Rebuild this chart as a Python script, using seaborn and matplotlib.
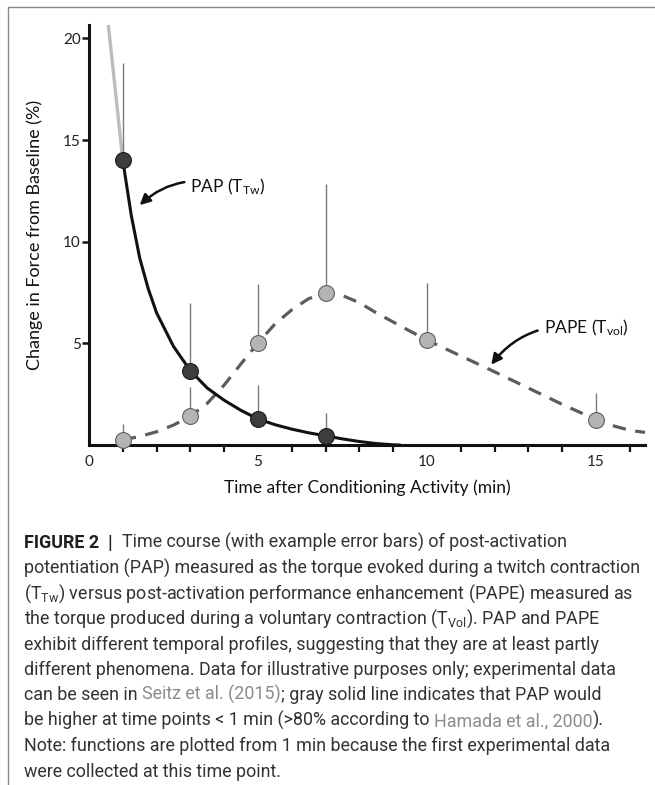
import matplotlib
matplotlib.use("Agg")
import matplotlib.pyplot as plt
import seaborn as sns
import pandas as pd
from matplotlib.lines import Line2D
from matplotlib.ticker import FixedLocator

# ---------------- data ----------------
pap_time = [1, 3, 5, 7]
pap_vals = [14.0, 3.65, 1.28, 0.45]
pap_err_top = [18.8, 7.0, 2.95, 1.56]

pape_time = [1, 3, 5, 7, 10, 15]
pape_vals = [0.25, 1.42, 5.02, 7.46, 5.16, 1.25]
pape_err_top = [1.05, 2.87, 7.92, 12.84, 7.95, 2.57]

pap_curve_t = [1, 1.25, 1.5, 1.75, 2, 2.5, 3, 3.5, 4, 4.5, 5, 5.5, 6, 6.5, 7, 7.5, 8, 8.5, 9, 9.2]
pap_curve_v = [14.0, 11.3, 9.2, 7.7, 6.5, 4.85, 3.65, 2.8, 2.2, 1.7, 1.28, 1.0, 0.78, 0.6, 0.45, 0.3, 0.17, 0.07, 0.01, 0.0]

pape_curve_t = [1, 1.5, 2, 2.5, 3, 3.5, 4, 4.5, 5, 5.5, 6, 6.5, 7, 7.5, 8, 8.5, 9, 9.5, 10,
                11, 12, 13, 14, 15, 15.5, 16, 16.45]
pape_curve_v = [0.25, 0.42, 0.65, 0.98, 1.42, 2.05, 2.95, 4.0, 5.02, 5.95, 6.65, 7.2, 7.46, 7.35, 7.0,
                6.5, 6.05, 5.6, 5.16, 4.38, 3.6, 2.8, 2.0, 1.25, 0.95, 0.72, 0.62]

gray_t = [0.57, 1.0]
gray_v = [20.7, 14.0]

x_major = [0, 5, 10, 15]
x_minor = [1, 2, 3, 4, 6, 7, 8, 9, 11, 12, 13, 14, 16]
y_major = [5, 10, 15, 20]

x_label = "Time after Conditioning Activity (min)"
y_label = "Change in Force from Baseline (%)"
pap_label = r"PAP ($\mathregular{T_{Tw}}$)"
pape_label = r"PAPE ($\mathregular{T_{vol}}$)"

caption_lines = [
    [("FIGURE 2  |  ", "bold"), ("Time course (with example error bars) of post-activation", "n")],
    [("potentiation (PAP) measured as the torque evoked during a twitch contraction", "n")],
    [(r"($\mathregular{T_{Tw}}$) versus post-activation performance enhancement (PAPE) measured as", "n")],
    [(r"the torque produced during a voluntary contraction ($\mathregular{T_{Vol}}$). PAP and PAPE", "n")],
    [("exhibit different temporal profiles, suggesting that they are at least partly", "n")],
    [("different phenomena. Data for illustrative purposes only; experimental data", "n")],
    [("can be seen in ", "n"), ("Seitz et al. (2015)", "ref"), ("; gray solid line indicates that PAP would", "n")],
    [("be higher at time points < 1 min (>80% according to ", "n"), ("Hamada et al., 2000", "ref"), (").", "n")],
    [("Note: functions are plotted from 1 min because the first experimental data", "n")],
    [("were collected at this time point.", "n")],
]

# ---------------- style ----------------
sns.set_style("ticks")
plt.rcParams["font.family"] = ["Lato", "DejaVu Sans"]

W, H = 655, 785
fig = plt.figure(figsize=(W / 100, H / 100), dpi=100)
ax = fig.add_axes([89 / W, 1 - 445 / H, (645 - 89) / W, (445 - 25) / H])

pap_curve = pd.DataFrame({"t": pap_curve_t, "v": pap_curve_v})
pape_curve = pd.DataFrame({"t": pape_curve_t, "v": pape_curve_v})
gray_df = pd.DataFrame({"t": gray_t, "v": gray_v})
pap_df = pd.DataFrame({"t": pap_time, "v": pap_vals})
pape_df = pd.DataFrame({"t": pape_time, "v": pape_vals})

# gray extrapolation line
sns.lineplot(data=gray_df, x="t", y="v", ax=ax, color="#bdbdbd", lw=2.4,
             sort=False, zorder=1, clip_on=True)
# error bars (upper only)
ax.vlines(pap_time, pap_vals, pap_err_top, color="#7a7a7a", lw=1.0, zorder=2)
ax.vlines(pape_time, pape_vals, pape_err_top, color="#7a7a7a", lw=1.0, zorder=2)
# curves
sns.lineplot(data=pape_curve, x="t", y="v", ax=ax, color="#5c5c5c", lw=2.3,
             dashes=False, zorder=3, clip_on=False)
ax.lines[-1].set_dashes((4.2, 3.0))
ax.lines[-1].set_dash_capstyle("butt")
sns.lineplot(data=pap_curve, x="t", y="v", ax=ax, color="#111111", lw=2.2, zorder=3)
# markers
sns.scatterplot(data=pap_df, x="t", y="v", ax=ax, s=130, color="#3d3d3d",
                edgecolor="#1a1a1a", linewidth=0.8, zorder=5, clip_on=False)
sns.scatterplot(data=pape_df, x="t", y="v", ax=ax, s=130, color="#b4b4b4",
                edgecolor="#606060", linewidth=0.8, zorder=5, clip_on=False)

ax.set_xlim(0, 16.45)
ax.set_ylim(0, 20.66)
ax.xaxis.set_major_locator(FixedLocator(x_major))
ax.xaxis.set_minor_locator(FixedLocator(x_minor))
ax.yaxis.set_major_locator(FixedLocator(y_major))
ax.set_xticklabels([str(v) for v in x_major])
ax.set_yticklabels([str(v) for v in y_major])
ax.tick_params(axis="x", which="major", length=0, pad=7, labelsize=11, labelcolor="#222222")
ax.tick_params(axis="x", which="minor", length=5, width=1.6, color="#111111", direction="out")
ax.tick_params(axis="y", which="major", length=5, width=1.8, color="#111111", pad=1,
               labelsize=11, labelcolor="#222222")
for s in ["top", "right"]:
    ax.spines[s].set_visible(False)
for s in ["left", "bottom"]:
    ax.spines[s].set_linewidth(2.2)
    ax.spines[s].set_color("#111111")
ax.set_xlabel(x_label, fontsize=12.5, color="#111111", labelpad=8)
ax.set_ylabel(y_label, fontsize=13, color="#111111", labelpad=14)

# annotations with curved arrows
arrow = dict(arrowstyle="-|>,head_width=0.25,head_length=0.5", color="#111111", lw=1.8,
             connectionstyle="arc3,rad=0.3", shrinkA=2, shrinkB=0)
ax.annotate(pap_label, xy=(1.5, 11.8), xytext=(3.0, 12.7), fontsize=12.5,
            va="center", ha="left", color="#111111", arrowprops=arrow)
ax.annotate(pape_label, xy=(11.9, 3.95), xytext=(13.45, 5.75), fontsize=12.5,
            va="center", ha="left", color="#111111", arrowprops=arrow)

# screenshot frame
fig.add_artist(Line2D([8 / W, 1], [1 - 7 / H, 1 - 7 / H], color="#8a8a8a", lw=1.0))
fig.add_artist(Line2D([8 / W, 8 / W], [0, 1 - 7 / H], color="#8a8a8a", lw=1.0))

# caption
cap_font = ["Roboto", "DejaVu Sans"]
cap_size = 12.9
y0 = 548
dy = 25.4
for i, segs in enumerate(caption_lines):
    yb = 1 - (y0 + i * dy) / H
    prev = None
    for text, kind in segs:
        kw = dict(fontsize=cap_size, family=cap_font)
        if kind == "bold":
            kw.update(weight="bold", color="#1f1f1f")
        elif kind == "ref":
            kw.update(weight="normal", color="#8c8c8c")
        else:
            kw.update(weight="normal", color="#333333")
        if prev is None:
            prev = fig.text(24 / W, yb, text, va="baseline", ha="left", **kw)
        else:
            prev = ax.annotate(text, xy=(1, 0), xycoords=prev, va="bottom", ha="left",
                               annotation_clip=False, **kw)

fig.savefig("out.png", dpi=100)
